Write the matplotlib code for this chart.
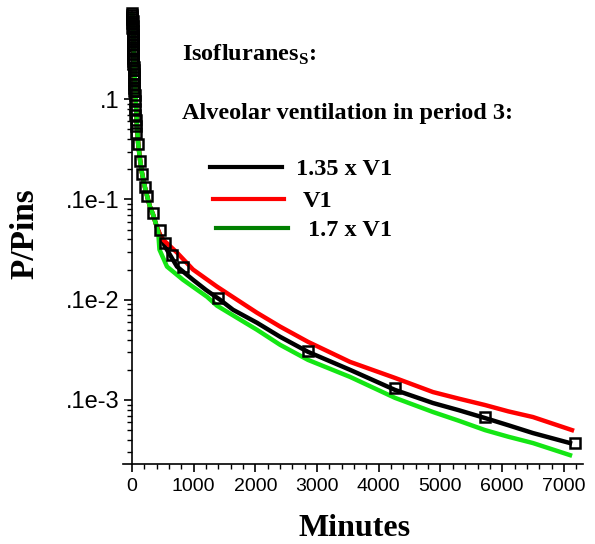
import matplotlib
matplotlib.use("Agg")
import matplotlib.pyplot as plt
from matplotlib.lines import Line2D
from matplotlib.ticker import FixedLocator, FixedFormatter, MultipleLocator, NullFormatter

W, H = 595, 544

# common decay before period 3 (all three runs identical)
t_common = [0, 10, 20, 30, 40, 50, 60, 80, 100, 130, 160, 210, 250, 290, 340, 400]
p_common = [0.741, 0.60, 0.45, 0.30, 0.20, 0.14, 0.10, 0.055, 0.036, 0.025,
            0.0186, 0.0132, 0.0105, 0.0085, 0.0071, 0.00537]

# period 3, 1.35 x V1
t_black = [400, 454, 535, 729, 989, 1200, 1426, 1637, 2026, 2400, 2853, 3533, 4263, 4878,
           5300, 5721, 6100, 6499, 7099]
p_black = [0.00537, 0.00437, 0.00339, 0.00214, 0.00158, 0.00125, 0.00100, 0.000794,
           0.000589, 0.000427, 0.000302, 0.000200, 0.000126, 9.33e-5, 7.9e-5, 6.61e-5,
           5.6e-5, 4.68e-5, 3.72e-5]

# period 3, V1
t_red = [400, 454, 502, 729, 989, 1378, 1702, 2026, 2400, 2853, 3533, 4263, 4878, 5300,
         5721, 6100, 6499, 7131]
p_red = [0.00537, 0.00447, 0.00398, 0.00295, 0.00200, 0.00135, 0.00100, 0.000741,
         0.000540, 0.000380, 0.000240, 0.000166, 0.000120, 0.000103, 8.91e-5, 7.7e-5,
         6.76e-5, 5.01e-5]

# period 3, 1.7 x V1
t_green = [400, 425, 445, 567, 827, 1216, 1378, 2026, 2400, 2853, 3533, 4263, 4878, 5300,
           5721, 6100, 6499, 7099]
p_green = [0.00537, 0.00468, 0.00316, 0.00214, 0.00158, 0.00107, 0.000871, 0.000501,
           0.000355, 0.000251, 0.000170, 0.000105, 7.59e-5, 6.2e-5, 5.01e-5, 4.3e-5,
           3.72e-5, 2.82e-5]

# measured points
t_obs = [0, 3, 6, 2, 8, 4, 10, 5, 12, 8, 14, 10, 16, 12, 18, 15, 20, 18, 24, 22, 28,
         26, 32, 30, 36, 34, 40, 38, 44, 48, 52, 56, 60, 65, 70,
         97, 130, 162, 211, 243, 340, 454, 535, 648, 827, 1394, 2853, 4263, 5721, 7180]
p_obs = [0.72, 0.69, 0.66, 0.63, 0.60, 0.57, 0.54, 0.51, 0.48, 0.45, 0.42, 0.395, 0.37,
         0.345, 0.32, 0.30, 0.28, 0.26, 0.24, 0.225, 0.21, 0.195, 0.18, 0.167, 0.155,
         0.142, 0.13, 0.12, 0.11, 0.095, 0.08, 0.07, 0.062, 0.054, 0.046,
         0.0355, 0.024, 0.0178, 0.0132, 0.0107, 0.0074, 0.0050, 0.0037, 0.0028, 0.0021,
         0.00105, 0.00031, 0.000132, 6.8e-5, 3.7e-5]

y_ticks = [0.1, 0.01, 0.001, 0.0001]
y_ticklabels = [".1", ".1e-1", ".1e-2", ".1e-3"]
legend_labels = ["1.35 x V1", "V1", "1.7 x V1"]

GREEN_CURVE = "#14e614"
GREEN_LEG = "#008000"
SERIF = "Liberation Serif"
SANS = "Liberation Sans"


def fx(px):
    return px / W


def fy(py):
    return 1 - py / H


fig = plt.figure(figsize=(W / 100, H / 100), dpi=100)
ax = fig.add_axes([fx(123), fy(464), (583 - 123) / W, (464 - 12) / H])

lw = 3.2
ax.plot(t_common + t_black[1:], p_common + p_black[1:], color="black", lw=lw, zorder=2)
ax.plot(t_common + t_red[1:], p_common + p_red[1:], color="red", lw=lw, zorder=3)
ax.plot(t_common + t_green[1:], p_common + p_green[1:], color=GREEN_CURVE, lw=lw, zorder=4)
ax.plot(t_obs, p_obs, ls="none", marker="s", ms=7, mfc="none", mec="black", mew=1.8,
        zorder=5, clip_on=False)

ax.set_yscale("log")
ax.set_xlim(-146, 7310)
ax.set_ylim(2.3e-5, 0.74)

for s in ["top", "right"]:
    ax.spines[s].set_visible(False)
ax.spines["left"].set_position(("data", 0))
for s in ["left", "bottom"]:
    ax.spines[s].set_linewidth(1.2)

ax.xaxis.set_major_locator(MultipleLocator(1000))
ax.xaxis.set_minor_locator(MultipleLocator(200))
ax.yaxis.set_major_locator(FixedLocator(y_ticks))
ax.yaxis.set_major_formatter(FixedFormatter(y_ticklabels))
ax.yaxis.set_minor_formatter(NullFormatter())
ax.tick_params(axis="both", which="major", direction="out", length=6, width=1.2)
ax.tick_params(axis="both", which="minor", direction="out", length=3.5, width=1.0)
ax.tick_params(axis="x", labelsize=14, pad=4)
ax.tick_params(axis="y", labelsize=17, pad=3)
for lab in ax.get_xticklabels() + ax.get_yticklabels():
    lab.set_fontfamily(SANS)

fig.text(fx(25), fy(234), "P/Pins", rotation=90, ha="center", va="center",
         fontsize=24, fontweight="bold", family=SERIF)
fig.text(fx(355), fy(528), "Minutes", ha="center", va="center",
         fontsize=23, fontweight="bold", family=SERIF)

# annotation block
plt.rcParams["mathtext.fontset"] = "custom"
plt.rcParams["mathtext.rm"] = "Liberation Serif:bold"
plt.rcParams["mathtext.bf"] = "Liberation Serif:bold"
fs = 17.5
fig.text(fx(182), fy(61), r"Isofluranes$_\mathrm{S}$:", ha="left", va="baseline",
         fontsize=fs, fontweight="bold", family=SERIF)
fig.text(fx(182), fy(119), "Alveolar ventilation in period 3:", ha="left", va="baseline",
         fontsize=fs, fontweight="bold", family=SERIF)

leg_rows = [(210, 282, 167, 296, "black"),
            (213, 284, 199, 303, "red"),
            (216, 288, 228, 308, GREEN_LEG)]
for (x0, x1, yy, xt, col), lab in zip(leg_rows, legend_labels):
    fig.add_artist(Line2D([fx(x0), fx(x1)], [fy(yy), fy(yy)], color=col, lw=3,
                          transform=fig.transFigure))
    fig.text(fx(xt), fy(yy + 8), lab, ha="left", va="baseline",
             fontsize=fs, fontweight="bold", family=SERIF)

fig.savefig("out.png", dpi=100)
